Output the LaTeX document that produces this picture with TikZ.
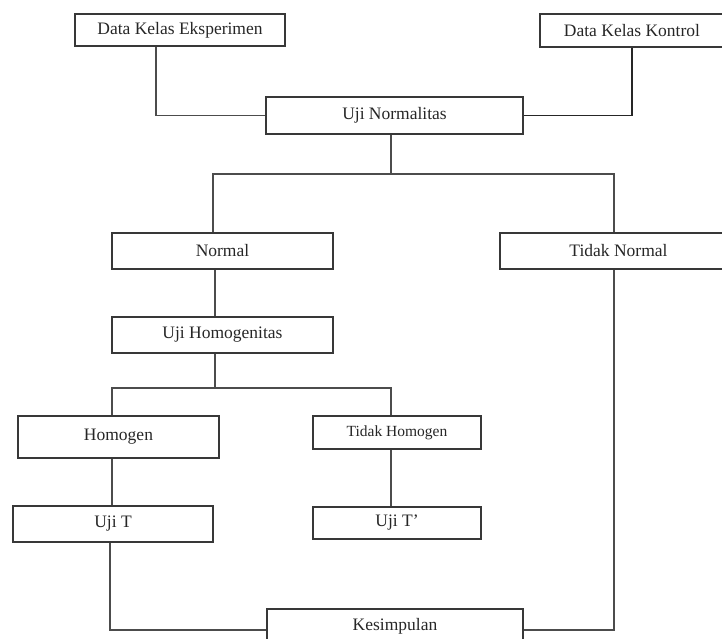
\documentclass[tikz,border=0pt]{standalone}
\usepackage{fontspec}
\setmainfont{Liberation Serif}
\begin{document}
\begin{tikzpicture}[x=1pt,y=-1pt,
  box/.style={draw=black!78,line width=1.3pt,inner sep=0pt,minimum width=#1,
    font=\fontsize{17.5}{20}\selectfont,text=black!85},
  conn/.style={draw=black!70,line width=1.1pt},
  thick conn/.style={draw=black!85,line width=1.9pt}]
\useasboundingbox (0,0) rectangle (722,639);
% boxes
\node[box=210pt,minimum height=32pt] (eks) at (180,30) {Data Kelas Eksperimen};
\node[box=184pt,minimum height=33pt] (kon) at (632,30.5) {Data Kelas Kontrol};
\node[box=257pt,minimum height=37pt] (norm) at (394.5,115.5) {Uji Normalitas};
\node[box=221pt,minimum height=36pt] (nrm) at (222.5,251) {Normal};
\node[box=237pt,minimum height=36pt] (tnrm) at (618.5,251) {Tidak Normal};
\node[box=221pt,minimum height=36pt] (homt) at (222.5,335) {Uji Homogenitas};
\node[box=201pt,minimum height=42pt] (hom) at (118.5,437) {Homogen};
\node[box=168pt,minimum height=33pt,font=\fontsize{15.5}{18}\selectfont] (thom) at (397,432.5) {Tidak Homogen};
\node[box=200pt,minimum height=36pt] (ujit) at (113,524) {Uji T};
\node[box=168pt,minimum height=32pt] (ujitt) at (397,523) {Uji T'};
\node[box=256pt,minimum height=42pt,text depth=12pt] (kes) at (395,630) {Kesimpulan};
% coordinates for connector lines
\coordinate (xe) at (156,0);
\coordinate (j1) at (391,174);
\coordinate (xn) at (213,0);
\coordinate (xtn) at (614,0);
\coordinate (xh) at (215,0);
\coordinate (j2) at (215,388);
\coordinate (xho) at (112,0);
\coordinate (xth) at (391,0);
\coordinate (xu) at (110,0);
% connectors
\draw[conn] (eks.south -| xe) |- (norm.west);
\draw[thick conn] (kon.south) |- (norm.east);
\draw[conn] (norm.south -| j1) -- (j1);
\draw[conn] (nrm.north -| xn) |- (j1) -| (tnrm.north -| xtn);
\draw[conn] (nrm.south -| xh) -- (homt.north -| xh);
\draw[conn] (homt.south -| j2) -- (j2);
\draw[conn] (hom.north -| xho) |- (j2) -| (thom.north -| xth);
\draw[conn] (hom.south -| xho) -- (ujit.north -| xho);
\draw[conn] (thom.south -| xth) -- (ujitt.north -| xth);
\draw[conn] (ujit.south -| xu) |- (kes.west);
\draw[conn] (tnrm.south -| xtn) |- (kes.east);
\end{tikzpicture}
\end{document}
